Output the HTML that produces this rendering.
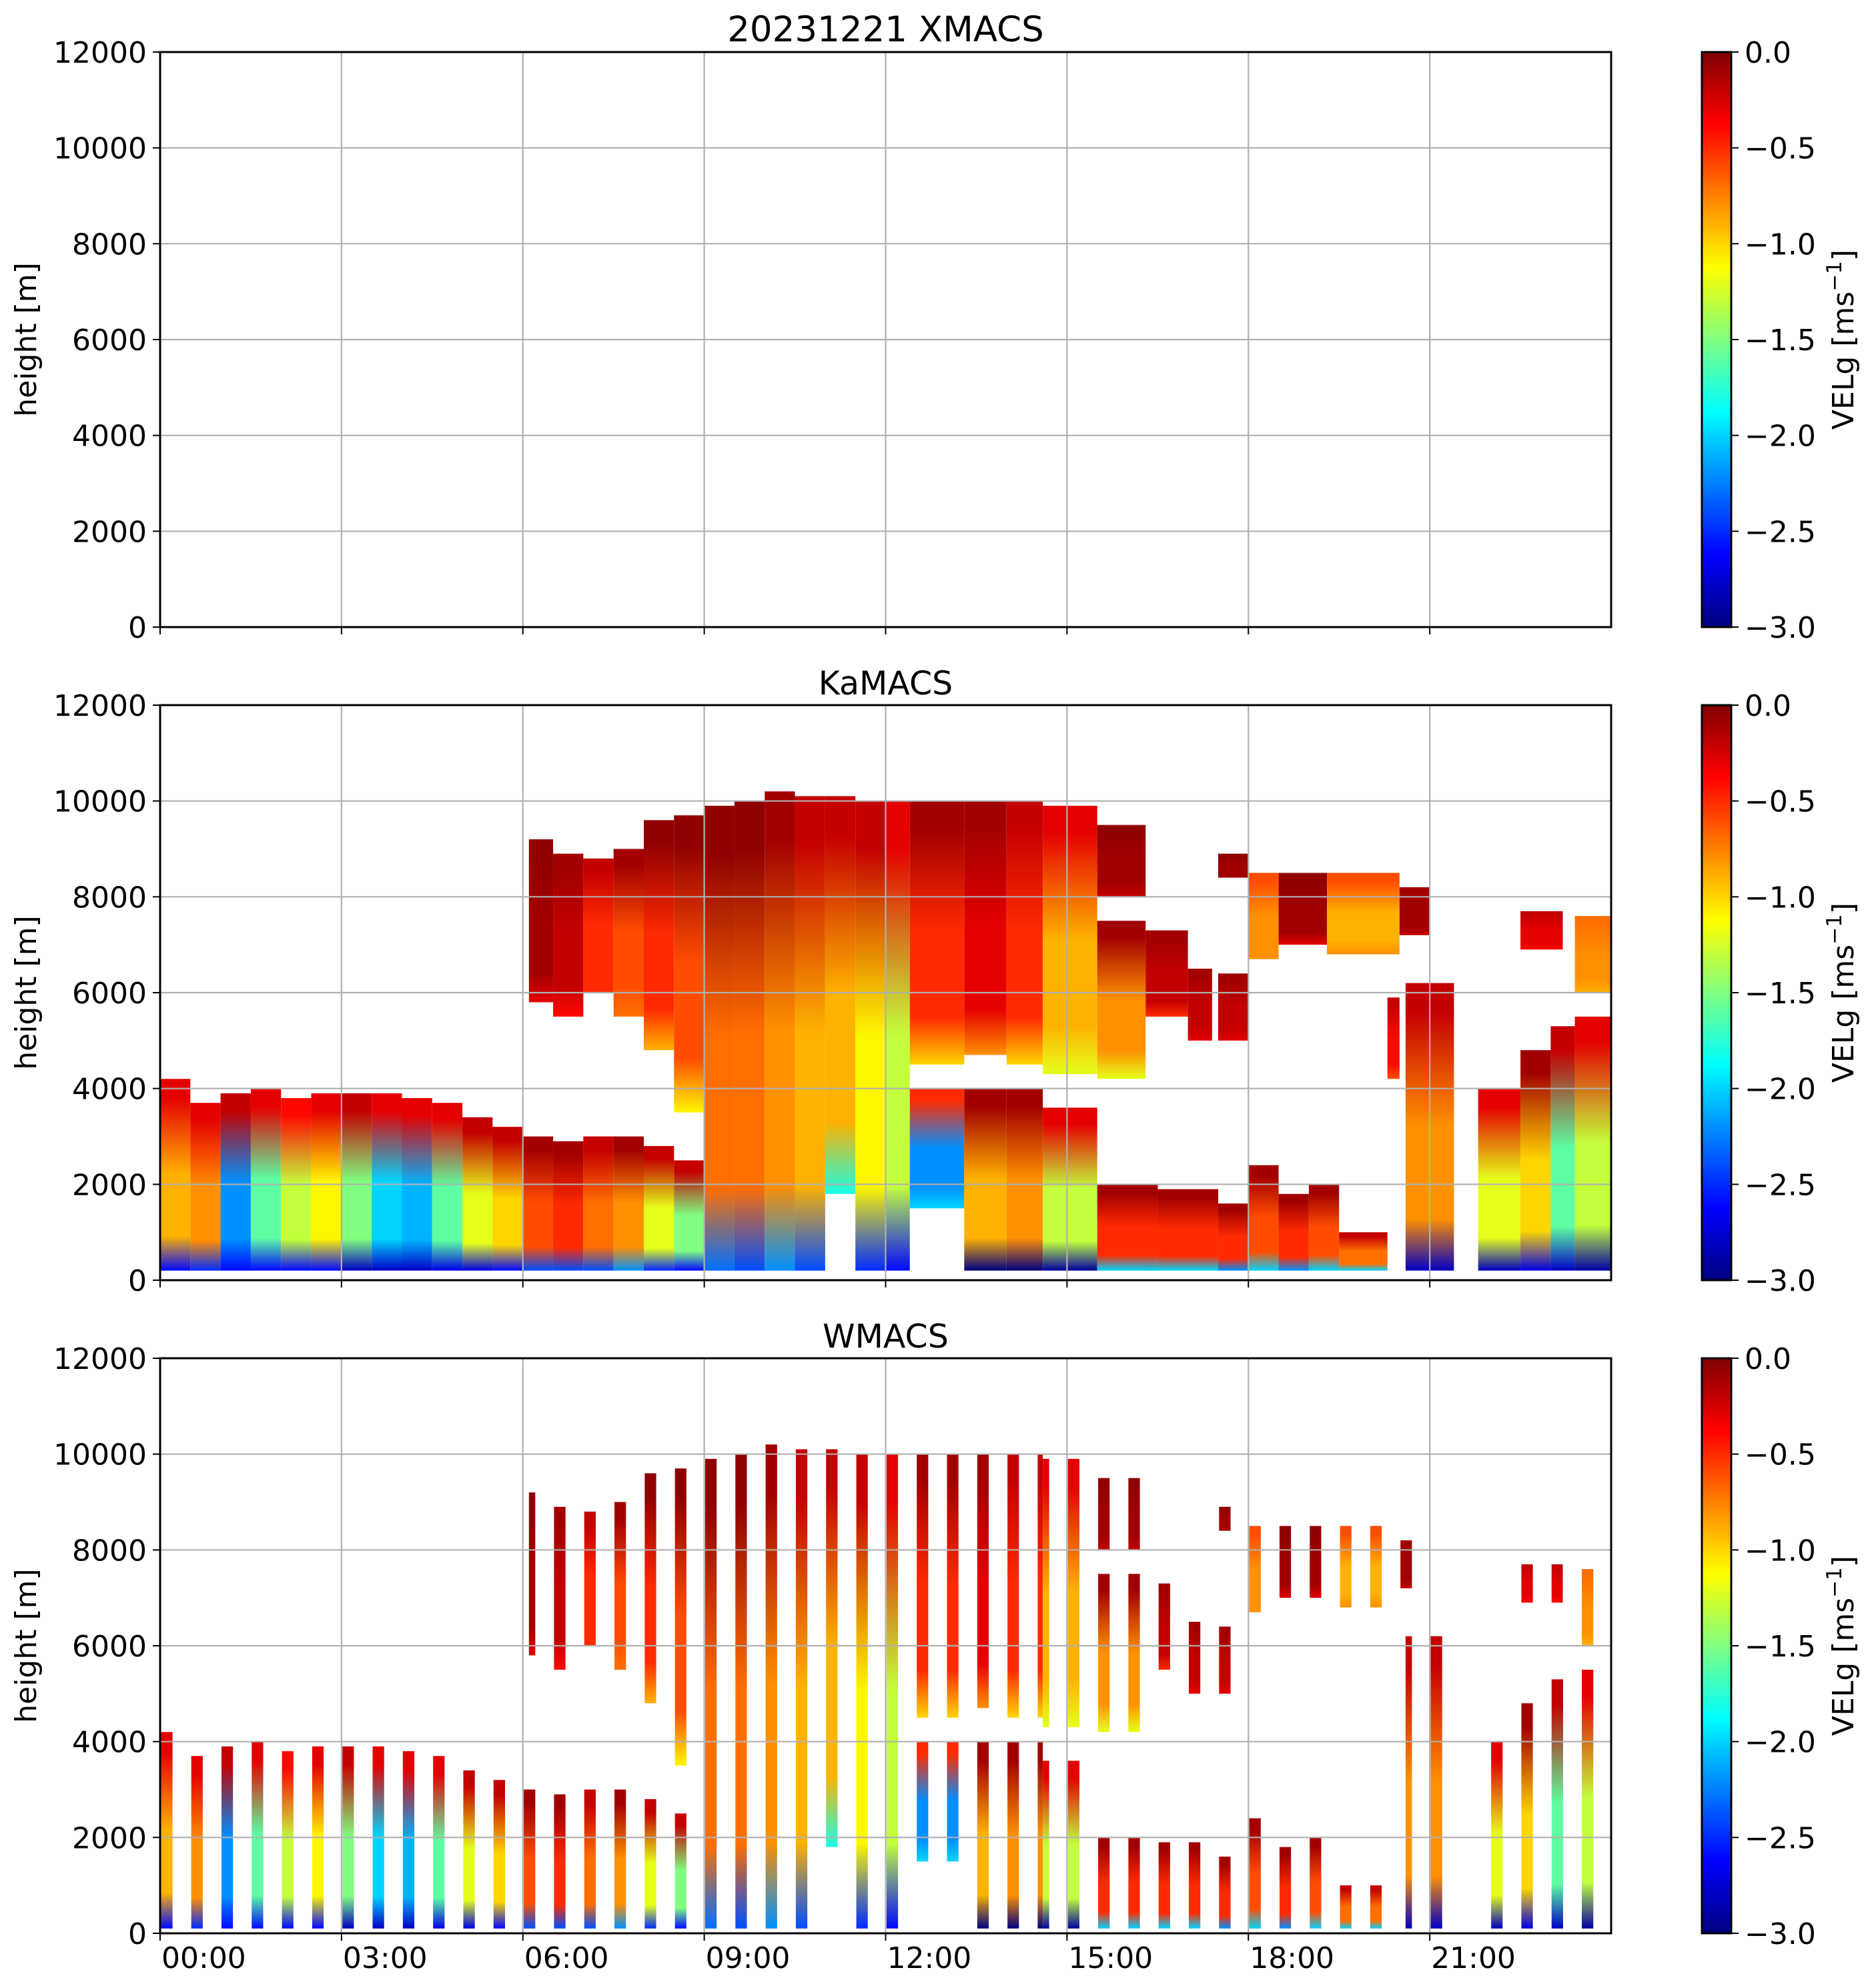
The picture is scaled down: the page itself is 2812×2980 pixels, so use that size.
<!DOCTYPE html>
<html><head><meta charset="utf-8"><title>20231221 MACS VELg</title>
<style>
html,body{margin:0;padding:0;background:#fff;}
svg{display:block;font-family:"DejaVu Sans","Liberation Sans",sans-serif;}
</style></head>
<body>
<svg id="fig" xmlns="http://www.w3.org/2000/svg" width="2812" height="2980" viewBox="0 0 2812 2980">
<rect x="0" y="0" width="2812" height="2980" fill="#fff"/>
<defs id="defs"></defs>
</svg>
<script>
// ---- data (hours, metres, m/s) ----
const panelTitles = ["20231221 XMACS", "KaMACS", "WMACS"];
const yTicks = [0, 2000, 4000, 6000, 8000, 10000, 12000];
const xTickHours = [0, 3, 6, 9, 12, 15, 18, 21];
const xTickLabels = ["00:00","03:00","06:00","09:00","12:00","15:00","18:00","21:00"];
const cbTicks = [0.0, -0.5, -1.0, -1.5, -2.0, -2.5, -3.0];
const cbLabels = ["0.0","\u22120.5","\u22121.0","\u22121.5","\u22122.0","\u22122.5","\u22123.0"];
// echo blocks (KaMACS, reused by WMACS through its scan schedule)
const blockStart = [0,0.5,1,1.5,2,2.5,3,3.5,4,4.5,5,5.5,6,6.5,7,7.5,8,8.5, 6.1,6.5,7,7.5,8,8.5, 9,9.5,10,10.5,11,11.5,12, 12.4,12.4, 13.3,13.3, 14,14, 14.6,14.6, 15.5,15.5,15.5, 16.3,16.3, 17,17.5,17.5, 18,18.5,19.3,20.5, 16.5,17.5,18,18.5,19,19.5, 20.3,20.6,21.8,22.5,23,23.4,22.5,23.4];
const blockEnd   = [0.5,1,1.5,2,2.5,3,3.5,4,4.5,5,5.5,6,6.5,7,7.5,8,8.5,9, 6.5,7,7.5,8,8.5,9, 9.5,10,10.5,11,11.5,12,12.4, 13.3,13.3, 14,14, 14.6,14.6, 15.5,15.5, 16.3,16.3,16.5, 17,16.5, 17.4,18,18, 18.5,19.3,20.5,21, 17.5,18,18.5,19,19.5,20.3, 20.5,21.4,22.5,23,23.4,24,23.2,24];
const blockBase  = [200,200,200,200,200,200,200,200,200,200,200,200,200,200,200,200,200,200, 5800,5500,6000,5500,4800,3500, 200,200,200,200,1800,200,200, 4500,1500, 4700,200, 4500,200, 4300,200, 4200,8000,200, 5500,200, 5000,8400,5000, 6700,7000,6800,7200, 200,200,200,200,200,200, 4200,200,200,200,200,200,6900,6000];
const blockTop   = [4200,3700,3900,4000,3800,3900,3900,3900,3800,3700,3400,3200,3000,2900,3000,3000,2800,2500, 9200,8900,8800,9000,9600,9700, 9900,10000,10200,10100,10100,10000,10000, 10000,4000, 10000,4000, 10000,4000, 9900,3600, 7500,9500,2000, 7300,2000, 6500,8900,6400, 8500,8500,8500,8200, 1900,1600,2400,1800,2000,1000, 5900,6200,4000,4800,5300,5500,7700,7600];
const blockVTop  = [-0.3,-0.3,-0.2,-0.3,-0.4,-0.3,-0.2,-0.3,-0.3,-0.3,-0.2,-0.2,-0.1,-0.1,-0.2,-0.1,-0.2,-0.2, -0.05,-0.1,-0.2,-0.1,-0.05,-0.05, -0.05,-0.05,-0.1,-0.2,-0.2,-0.2,-0.3, -0.1,-0.5, -0.1,-0.1, -0.2,-0.1, -0.3,-0.3, -0.1,-0.05,-0.1, -0.1,-0.1, -0.1,-0.05,-0.1, -0.6,-0.05,-0.6,-0.1, -0.1,-0.1,-0.1,-0.1,-0.1,-0.2, -0.2,-0.2,-0.3,-0.1,-0.2,-0.3,-0.2,-0.7];
const blockVMid  = [-0.9,-0.8,-2.2,-1.6,-1.3,-1.1,-1.5,-2.0,-2.1,-1.6,-1.2,-1.0,-0.6,-0.5,-0.7,-0.8,-1.2,-1.5, -0.1,-0.2,-0.5,-0.6,-0.5,-0.6, -0.7,-0.7,-0.8,-0.9,-0.9,-1.1,-1.3, -0.5,-2.2, -0.3,-0.9, -0.5,-0.8, -0.9,-1.3, -0.8,-0.1,-0.5, -0.2,-0.5, -0.2,-0.1,-0.2, -0.8,-0.1,-0.9,-0.1, -0.5,-0.5,-0.6,-0.5,-0.6,-0.7, -0.4,-0.8,-1.2,-1.0,-1.6,-1.3,-0.3,-0.8];
const blockVBot  = [-2.6,-2.5,-2.6,-2.6,-2.6,-2.6,-2.8,-2.8,-2.8,-2.7,-2.7,-2.6,-2.4,-2.4,-2.4,-2.2,-2.5,-2.6, -0.3,-0.4,-0.5,-0.7,-0.9,-1.1, -2.3,-2.4,-2.2,-2.4,-1.8,-2.5,-2.6, -1.0,-2.0, -0.8,-3.0, -1.0,-3.0, -1.2,-2.9, -1.2,-0.2,-2.0, -0.5,-2.0, -0.3,-0.1,-0.3, -0.8,-0.3,-0.8,-0.2, -2.0,-2.2,-2.0,-2.2,-2.0,-2.0, -0.6,-2.8,-2.8,-2.7,-2.8,-2.9,-0.4,-0.9];
// WMACS scan schedule: first scan centre and interval (hours), scan width
const wScanFirst = 0.11;
const wScanStep = 0.5;
const wScanCount = 48;
const wScanWidth = 0.19;

// ---- layout ----
const X0 = 240, X1 = 2415, PH = 862;
const panelTops = [78, 1057, 2036];
const CB0 = 2551, CB1 = 2595;
const FS = 44;
const NS = "http://www.w3.org/2000/svg";
const svg = document.getElementById('fig');
const defs = document.getElementById('defs');
function el(tag, attrs, parent){ const e=document.createElementNS(NS,tag); for(const k in attrs) e.setAttribute(k,attrs[k]); (parent||svg).appendChild(e); return e; }
function xs(h){ return X0 + (h/24)*(X1-X0); }
function ys(m, top){ return top + PH - (m/12000)*PH; }
function jet(v){
  const t = Math.max(0, Math.min(1, (v+3)/3));
  const c = x => Math.round(255*Math.max(0, Math.min(1, 1.5 - Math.abs(x))));
  return `rgb(${c(4*t-3)},${c(4*t-2)},${c(4*t-1)})`;
}
let gid = 0;
function gradFor(i){
  const id = 'g'+(gid++);
  const g = el('linearGradient', {id:id, x1:0, y1:0, x2:0, y2:1}, defs);
  [[0, blockVTop[i]],[0.1, blockVTop[i]],[0.5, blockVMid[i]],[0.82, blockVMid[i]],[1, blockVBot[i]]].forEach(s=>{
    el('stop', {offset:s[0], 'stop-color':jet(s[1])}, g);
  });
  return id;
}

panelTops.forEach((top, p) => {
  const grp = el('g', {});
  
  
  const dg = el('g', {}, grp);
  
  
  if (p === 1) {
    for (let i=0;i<blockStart.length;i++){
      const id = gradFor(i);
      const r = el('rect', {x:xs(blockStart[i]), y:ys(blockTop[i],top), width:xs(blockEnd[i])-xs(blockStart[i]), height:ys(blockBase[i],top)-ys(blockTop[i],top), fill:`url(#${id})`}, dg);
      
      
    }
  } else if (p === 2) {
    for (let i=0;i<blockStart.length;i++){
      const id = gradFor(i);
      for (let k=0;k<wScanCount;k++){
        const c = wScanFirst + k*wScanStep;
        const a = Math.max(blockStart[i], c - wScanWidth/2), b = Math.min(blockEnd[i], c + wScanWidth/2);
        if (b <= a) continue;
        const base = blockBase[i] === 200 ? 100 : blockBase[i];
        const r = el('rect', {x:xs(a), y:ys(blockTop[i],top), width:xs(b)-xs(a), height:ys(base,top)-ys(blockTop[i],top), fill:`url(#${id})`}, dg);
        
        
      }
    }
  }
  xTickHours.forEach(h => {
    if (h===0) return;
    const l = el('line', {x1:xs(h), x2:xs(h), y1:top, y2:top+PH, stroke:'#b0b0b0', 'stroke-width':2.2}, grp);
    
    
  });
  yTicks.forEach(v => {
    const y = ys(v, top);
    const l = el('line', {x1:X0, x2:X1, y1:y, y2:y, stroke:'#b0b0b0', 'stroke-width':2.2}, grp);
    
    
    const t = el('line', {x1:X0-11, x2:X0, y1:y, y2:y, stroke:'#000', 'stroke-width':2}, grp);
    
    
    const tx = el('text', {x:X0-20, y:y+16, 'text-anchor':'end', 'font-size':FS, fill:'#000'}, grp);
    tx.textContent = String(v);
    
    
  });
  xTickHours.forEach((h, i) => {
    const t = el('line', {x1:xs(h), x2:xs(h), y1:top+PH, y2:top+PH+11, stroke:'#000', 'stroke-width':2}, grp);
    
    
    if (p === 2) {
      const tx = el('text', {x:xs(h)+2, y:top+PH+52, 'font-size':FS, fill:'#000'}, grp);
      tx.textContent = xTickLabels[i];
      
      
    }
  });
  const frame = el('rect', {x:X0, y:top, width:X1-X0, height:PH, fill:'none', stroke:'#000', 'stroke-width':3}, grp);
  
  
  const ttl = el('text', {x:(X0+X1)/2, y:top-16, 'text-anchor':'middle', 'font-size':p===0?53:49, fill:'#000'}, grp);
  ttl.textContent = panelTitles[p];
  
  
  const yl = el('text', {x:0, y:0, 'text-anchor':'middle', 'font-size':FS, fill:'#000', transform:`translate(54,${top+PH/2}) rotate(-90)`}, grp);
  yl.textContent = 'height [m]';
  
  
  const cg = el('g', {}, grp);
  
  
  const cid = 'cb'+p;
  const lg = el('linearGradient', {id:cid, x1:0, y1:1, x2:0, y2:0}, defs);
  for (let s=0;s<=24;s++){ el('stop', {offset:s/24, 'stop-color':jet(-3 + 3*s/24)}, lg); }
  const cb = el('rect', {x:CB0, y:top, width:CB1-CB0, height:PH, fill:`url(#${cid})`, stroke:'#000', 'stroke-width':3}, cg);
  
  
  cbTicks.forEach((v, i) => {
    const y = top + PH * (-v/3);
    const t = el('line', {x1:CB1, x2:CB1+11, y1:y, y2:y, stroke:'#000', 'stroke-width':2}, cg);
    
    
    const tx = el('text', {x:CB1+20, y:y+16, 'font-size':FS, fill:'#000'}, cg);
    tx.textContent = cbLabels[i];
    
    
  });
  const cl = el('text', {x:0, y:0, 'text-anchor':'middle', 'font-size':FS, fill:'#000', transform:`translate(2778,${top+PH/2}) rotate(-90)`}, cg);
  cl.innerHTML = 'VELg [ms<tspan dy="-18" font-size="31">\u22121</tspan><tspan dy="18">]</tspan>';
  
  
});
</script>
</body></html>
